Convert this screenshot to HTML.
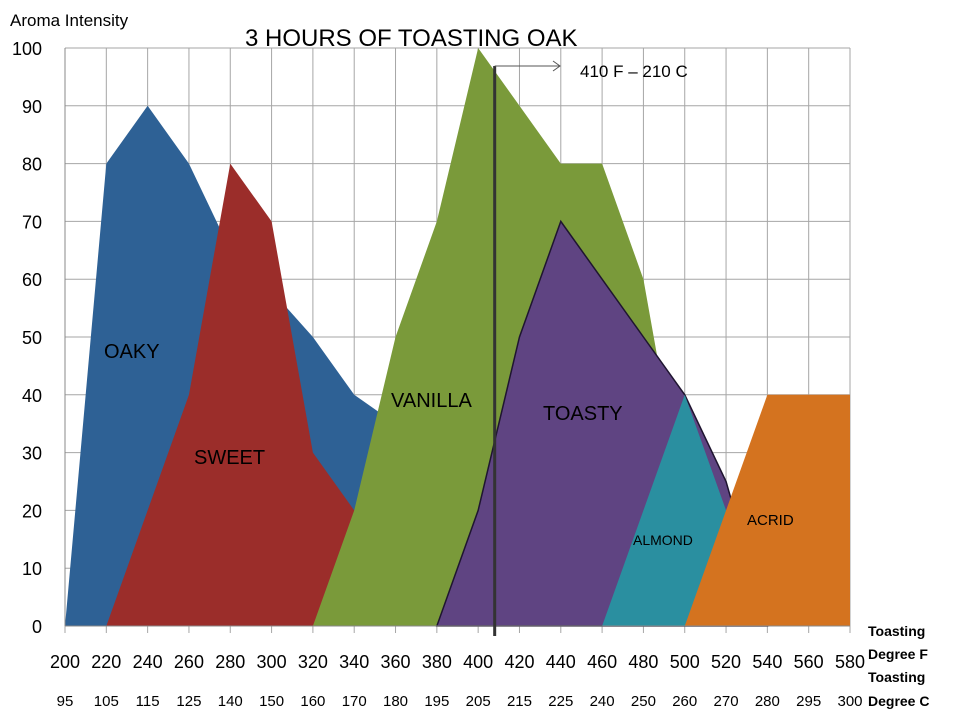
<!DOCTYPE html>
<html><head><meta charset="utf-8"><style>
body{margin:0;background:#fff;}
svg{display:block;font-family:"Liberation Sans",sans-serif;}
</style></head><body>
<svg id="chart" width="960" height="720" viewBox="0 0 960 720"></svg>
<script>
const ticksF=[200,220,240,260,280,300,320,340,360,380,400,420,440,460,480,500,520,540,560,580];
const ticksC=[95,105,115,125,140,150,160,170,180,195,205,215,225,240,250,260,270,280,295,300];
const ticksY=[0,10,20,30,40,50,60,70,80,90,100];
const oakyX=[200,220,240,260,280,300,320,340,360,380];
const oakyY=[0,80,90,80,65,58,50,40,35,0];
const sweetX=[220,240,260,280,300,320,340,360];
const sweetY=[0,20,40,80,70,30,20,0];
const vanillaX=[320,340,360,380,400,420,440,460,480,500,520];
const vanillaY=[0,20,50,70,100,90,80,80,60,20,0];
const toastyX=[380,400,420,440,460,480,500,520,540];
const toastyY=[0,20,50,70,60,50,40,25,0];
const almondX=[460,480,500,520,540];
const almondY=[0,20,40,20,0];
const acridX=[500,520,540,560,580,580];
const acridY=[0,20,40,40,40,0];
const markerF=[408];

const svg=document.getElementById('chart');
const NS='http://www.w3.org/2000/svg';
const x=v=>65+(v-200)*(850-65)/380;
const y=v=>626-v*(626-48)/100;
function mk(t,a,txt){const e=document.createElementNS(NS,t);for(const k in a)e.setAttribute(k,a[k]);if(txt!==undefined)e.textContent=txt;svg.appendChild(e);return e;}

ticksY.forEach(v=>{
  const l=mk('line',{x1:65,x2:850,y1:y(v),y2:y(v),stroke:'#a6a6a6','stroke-width':1});
  
  
  const t=mk('text',{x:42,y:y(v)+7,'text-anchor':'end','font-size':18,fill:'#000'},v);
  
  
});
ticksF.forEach((v,i)=>{
  const l=mk('line',{x1:x(v),x2:x(v),y1:48,y2:633,stroke:'#a6a6a6','stroke-width':1});
  
  
  const t=mk('text',{x:x(v),y:668,'text-anchor':'middle','font-size':18,fill:'#000'},v);
  
  
  const c=mk('text',{x:x(v),y:706,'text-anchor':'middle','font-size':15,fill:'#000'},ticksC[i]);
  
  
});
function area(xs,ys,fill,name,stroke){
  let d='M'+x(xs[0])+','+y(0);
  xs.forEach((v,i)=>{d+=' L'+x(v)+','+y(ys[i]);});
  d+=' L'+x(xs[xs.length-1])+','+y(0)+' Z';
  const p=mk('path',{d:d,fill:fill,stroke:stroke||'none','stroke-width':1.5});
  
  
}
area(oakyX,oakyY,'#2e6195','area-oaky');
area(sweetX,sweetY,'#9b2d2a','area-sweet');
area(vanillaX,vanillaY,'#7a9a3a','area-vanilla');
area(toastyX,toastyY,'#5f4482','area-toasty','#1f1530');
area(almondX,almondY,'#2a8fa0','area-almond');
area(acridX,acridY,'#d4731f','area-acrid');
mk('line',{x1:65,x2:850,y1:626,y2:626,stroke:'#888','stroke-width':1});
mk('line',{x1:65,x2:65,y1:48,y2:626,stroke:'#888','stroke-width':1});

markerF.forEach(v=>{
  const l=mk('line',{x1:x(v),x2:x(v),y1:66,y2:636,stroke:'#333','stroke-width':3});
  
  
  const a=mk('path',{d:'M'+x(v)+',66 L560,66 M553,61 L560,66 L553,71',stroke:'#555','stroke-width':1,fill:'none'});
  
  
});
const labels=[['chart-title',245,46,24,'3 HOURS OF TOASTING OAK','start'],['y-axis-title',10,26,17,'Aroma Intensity','start'],['marker-label',580,77,17,'410 F – 210 C','start'],
['label-oaky',104,358,20,'OAKY','start'],['label-sweet',194,464,20,'SWEET','start'],['label-vanilla',391,407,20,'VANILLA','start'],['label-toasty',543,420,20,'TOASTY','start'],['label-almond',633,545,14,'ALMOND','start'],['label-acrid',747,525,15,'ACRID','start']];
labels.forEach(l=>{const t=mk('text',{x:l[1],y:l[2],'font-size':l[3],fill:'#000','text-anchor':l[5]},l[4]);});
[['x-axis-title-f1',636,'Toasting'],['x-axis-title-f2',659,'Degree F'],['x-axis-title-c1',682,'Toasting'],['x-axis-title-c2',706,'Degree C']].forEach(l=>{const t=mk('text',{x:868,y:l[1],'font-size':14,'font-weight':'bold',fill:'#000'},l[2]);});
</script>
</body></html>
